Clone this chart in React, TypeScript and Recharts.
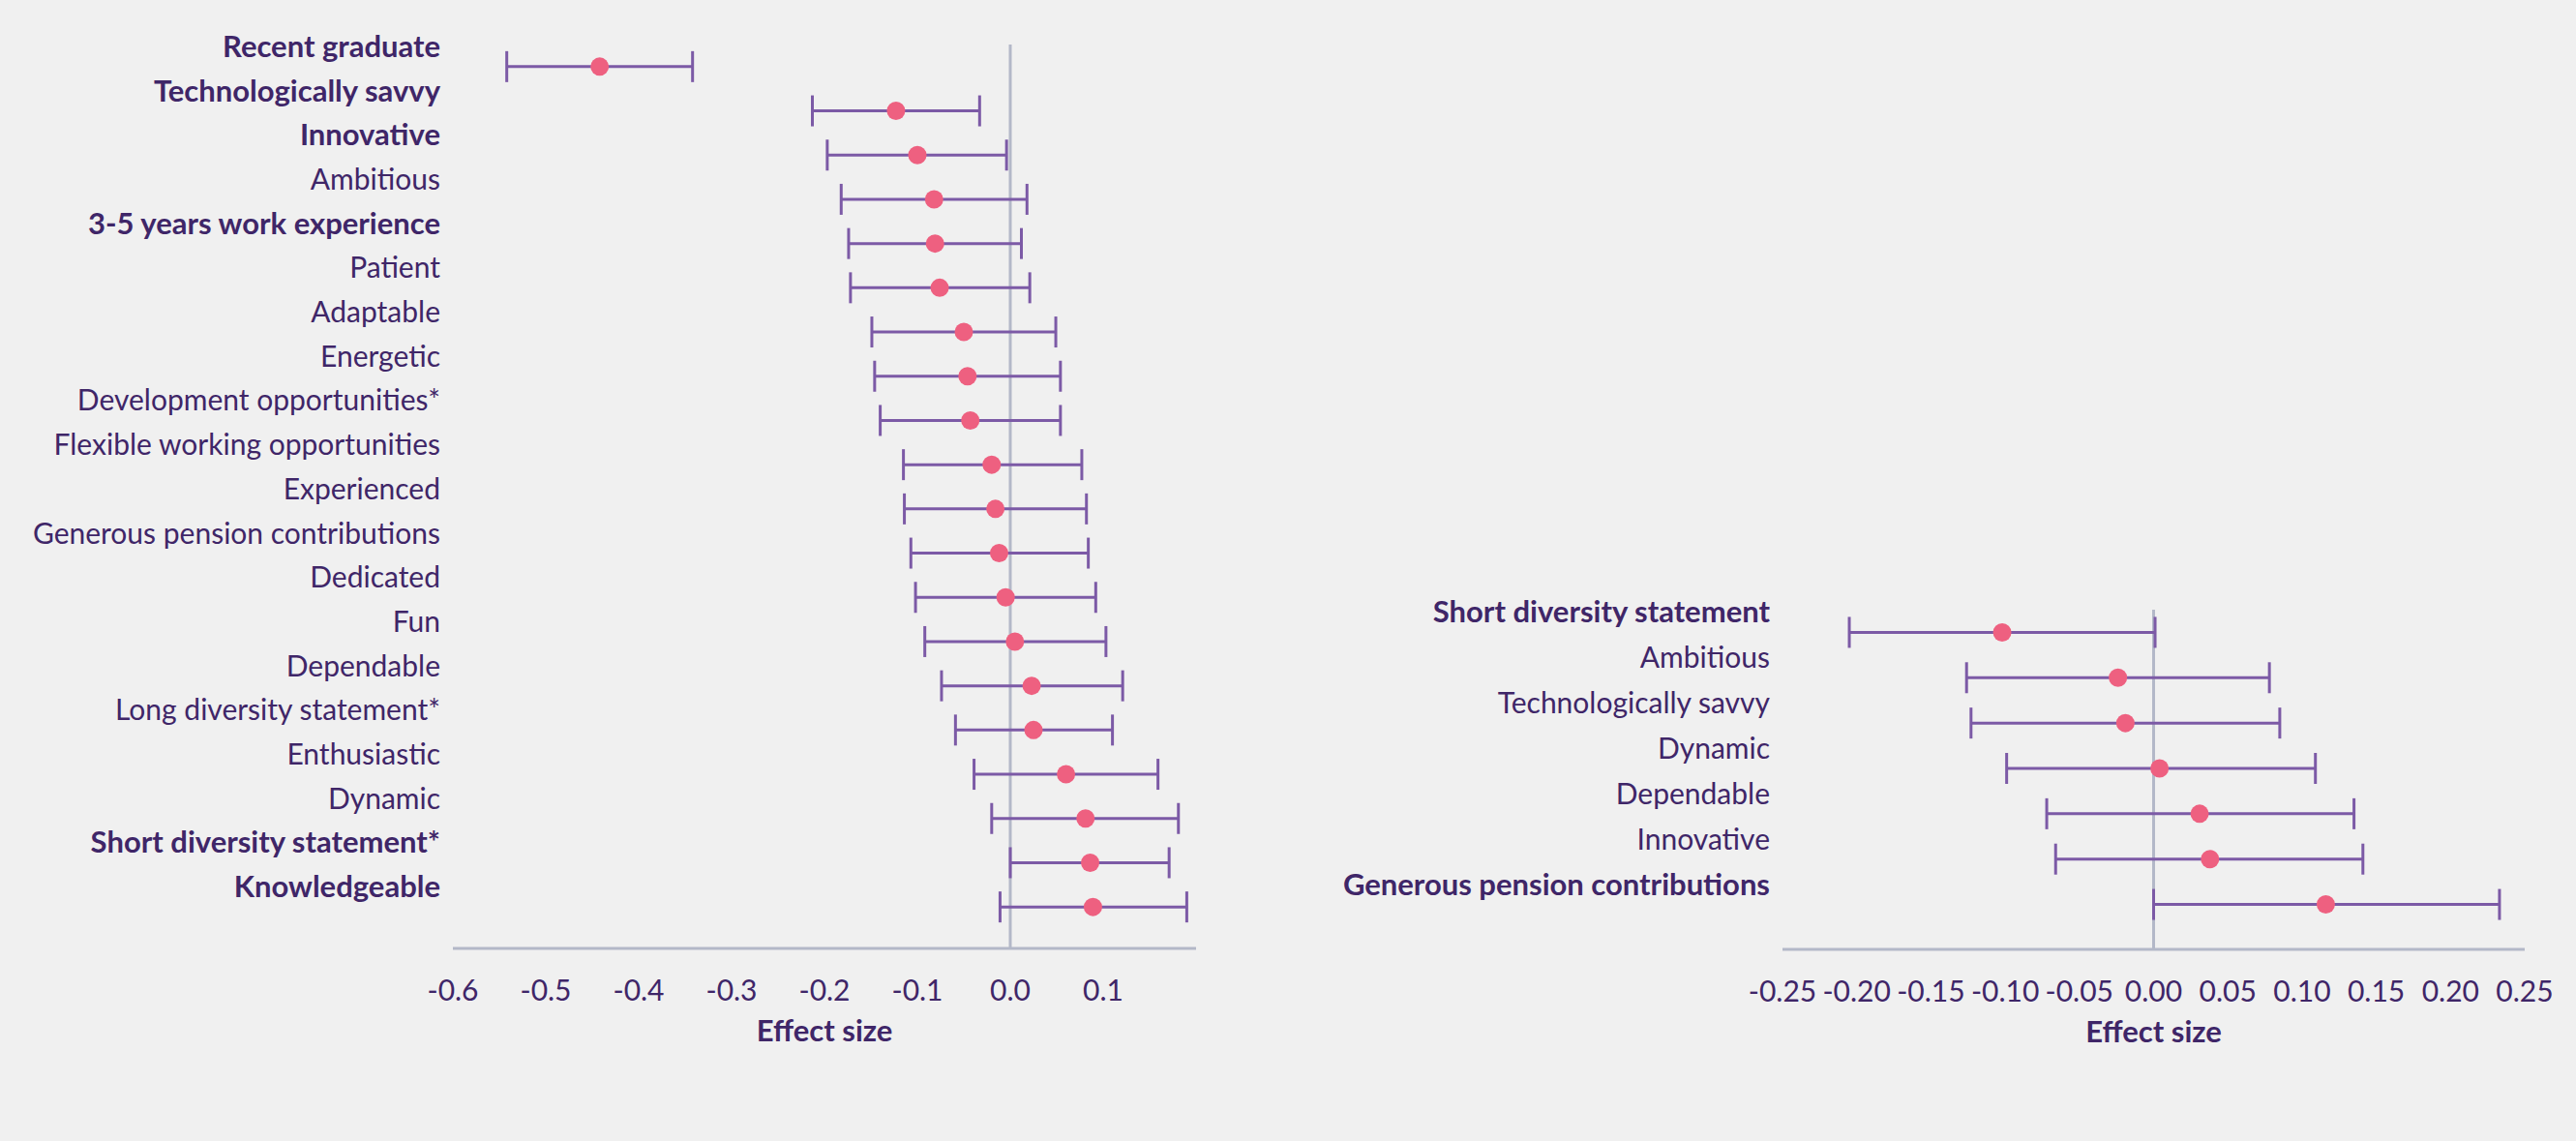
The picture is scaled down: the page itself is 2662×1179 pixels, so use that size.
import {
  ScatterChart,
  Scatter,
  XAxis,
  YAxis,
  ErrorBar,
  ReferenceLine,
  Label,
} from "recharts";

// left panel
const leftLabels = [
  "Recent graduate",
  "Technologically savvy",
  "Innovative",
  "Ambitious",
  "3-5 years work experience",
  "Patient",
  "Adaptable",
  "Energetic",
  "Development opportunities*",
  "Flexible working opportunities",
  "Experienced",
  "Generous pension contributions",
  "Dedicated",
  "Fun",
  "Dependable",
  "Long diversity statement*",
  "Enthusiastic",
  "Dynamic",
  "Short diversity statement*",
  "Knowledgeable",
];
const leftEffect = [
  -0.442, -0.123, -0.1, -0.082, -0.081, -0.076, -0.05, -0.046, -0.043, -0.02,
  -0.016, -0.012, -0.005, 0.005, 0.023, 0.025, 0.06, 0.081, 0.086, 0.089,
];
const leftLow = [
  -0.542, -0.213, -0.197, -0.182, -0.174, -0.172, -0.149, -0.146, -0.14, -0.115,
  -0.114, -0.107, -0.102, -0.092, -0.074, -0.059, -0.039, -0.02, 0.0, -0.011,
];
const leftHigh = [
  -0.342, -0.033, -0.004, 0.018, 0.012, 0.021, 0.049, 0.054, 0.054, 0.077,
  0.082, 0.084, 0.092, 0.103, 0.121, 0.11, 0.159, 0.181, 0.171, 0.19,
];
const leftBold = [
  "Recent graduate",
  "Technologically savvy",
  "Innovative",
  "3-5 years work experience",
  "Short diversity statement*",
  "Knowledgeable",
];
const leftTicks = [-0.6, -0.5, -0.4, -0.3, -0.2, -0.1, 0.0, 0.1];

// right panel
const rightLabels = [
  "Short diversity statement",
  "Ambitious",
  "Technologically savvy",
  "Dynamic",
  "Dependable",
  "Innovative",
  "Generous pension contributions",
];
const rightEffect = [-0.102, -0.024, -0.019, 0.004, 0.031, 0.038, 0.116];
const rightLow = [-0.205, -0.126, -0.123, -0.099, -0.072, -0.066, 0.0];
const rightHigh = [0.001, 0.078, 0.085, 0.109, 0.135, 0.141, 0.233];
const rightBold = ["Short diversity statement", "Generous pension contributions"];
const rightTicks = [-0.25, -0.2, -0.15, -0.1, -0.05, 0.0, 0.05, 0.1, 0.15, 0.2, 0.25];

const TEXT = "#3f2668";
const BAR = "#7c5aa6";
const DOT = "#ee6080";
const GRID = "#b3b8c8";
const FONT = "Lato, 'Noto Sans', sans-serif";

const makeRows = (labels: string[], eff: number[], lo: number[], hi: number[]) =>
  labels.map((name, i) => ({
    name,
    effect: eff[i],
    err: [eff[i] - lo[i], hi[i] - eff[i]],
  }));

const leftRows = makeRows(leftLabels, leftEffect, leftLow, leftHigh);
const rightRows = makeRows(rightLabels, rightEffect, rightLow, rightHigh);

function Dot(props: any) {
  return <circle cx={props.cx} cy={props.cy} r={9.5} fill={DOT} />;
}

// labels sit a little above their row, as in the source
function CategoryTick(bold: string[]) {
  return (props: any) => {
    const v = props.payload.value;
    const isBold = bold.includes(v);
    return (
      <text
        x={props.x - 13}
        y={props.y - 22}
        textAnchor="end"
        dominantBaseline="central"
        fill={TEXT}
        fontSize={isBold ? 31 : 30}
        fontFamily={FONT}
        fontWeight={isBold ? 700 : 400}
      >
        {v}
      </text>
    );
  };
}

function NumberTick(digits: number) {
  return (props: any) => (
    <text
      x={props.x}
      y={props.y + 42}
      textAnchor="middle"
      dominantBaseline="central"
      fill={TEXT}
      fontSize={30}
      fontFamily={FONT}
    >
      {Number(props.payload.value).toFixed(digits)}
    </text>
  );
}

function AxisTitle(props: any) {
  const vb = props.viewBox;
  return (
    <text
      x={vb.x + vb.width / 2}
      y={vb.y + 84}
      textAnchor="middle"
      dominantBaseline="central"
      fill={TEXT}
      fontSize={31}
      fontWeight={700}
      fontFamily={FONT}
    >
      Effect size
    </text>
  );
}

function Forest(props: {
  rows: any[];
  bold: string[];
  ticks: number[];
  domain: [number, number];
  digits: number;
  width: number;
  yWidth: number;
  top: number;
  right: number;
  bottom: number;
  padBottom: number;
}) {
  return (
    <ScatterChart
      width={props.width}
      height={1179}
      margin={{ top: props.top, right: props.right, bottom: props.bottom, left: 0 }}
    >
      <XAxis
        type="number"
        dataKey="effect"
        domain={props.domain}
        ticks={props.ticks}
        interval={0}
        allowDataOverflow
        height={100}
        tickSize={0}
        tickMargin={0}
        tickLine={false}
        axisLine={{ stroke: GRID, strokeWidth: 3 }}
        tick={NumberTick(props.digits)}
      >
        <Label content={AxisTitle} />
      </XAxis>
      <YAxis
        type="category"
        dataKey="name"
        reversed
        width={props.yWidth}
        interval={0}
        tickSize={0}
        tickMargin={0}
        tickLine={false}
        axisLine={false}
        padding={{ top: 0, bottom: props.padBottom }}
        tick={CategoryTick(props.bold)}
      />
      <ReferenceLine x={0} stroke={GRID} strokeWidth={3} />
      <Scatter data={props.rows} shape={Dot} isAnimationActive={false}>
        <ErrorBar
          dataKey="err"
          direction="x"
          width={16}
          stroke={BAR}
          strokeWidth={3}
          isAnimationActive={false}
        />
      </Scatter>
    </ScatterChart>
  );
}

export default function App() {
  return (
    <div
      style={{
        position: "absolute",
        left: 0,
        top: 0,
        width: 2662,
        height: 1179,
        background: "#f0f0f0",
        overflow: "hidden",
      }}
    >
      <div style={{ position: "absolute", left: 0, top: 0 }}>
        <Forest
          rows={leftRows}
          bold={leftBold}
          ticks={leftTicks}
          domain={[-0.6, 0.2]}
          digits={1}
          width={1260}
          yWidth={468}
          top={46}
          right={24}
          bottom={99}
          padBottom={20}
        />
      </div>
      <div style={{ position: "absolute", left: 1300, top: 0 }}>
        <Forest
          rows={rightRows}
          bold={rightBold}
          ticks={rightTicks}
          domain={[-0.25, 0.25]}
          digits={2}
          width={1362}
          yWidth={542}
          top={630}
          right={53}
          bottom={98}
          padBottom={23}
        />
      </div>
    </div>
  );
}
